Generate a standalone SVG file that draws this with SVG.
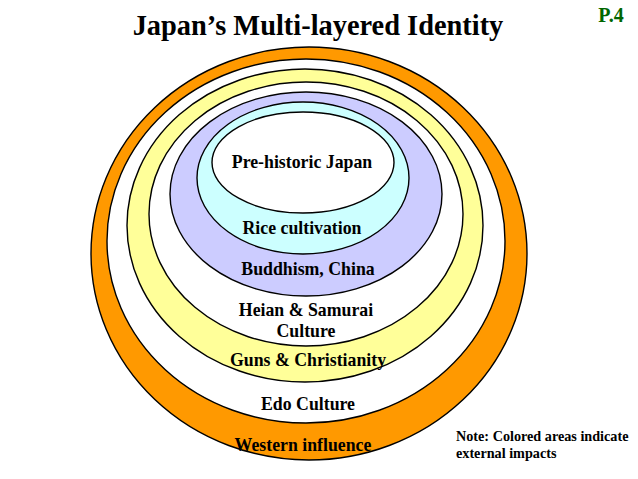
<svg xmlns="http://www.w3.org/2000/svg" width="638" height="479" viewBox="0 0 638 479">
<style>
.e{stroke:#000;stroke-width:1.4}
.t{font-family:"Liberation Serif","Times New Roman",serif;font-weight:bold;fill:#000;text-anchor:middle}
.l{font-size:17.8px}
</style>
<rect width="638" height="479" fill="#fff"/>
<text class="t" x="318" y="35" font-size="28.4">Japan’s Multi-layered Identity</text>
<text class="t" x="611" y="22" font-size="20" style="fill:#006600">P.4</text>
<g id="western"><ellipse class="e" cx="309" cy="253.5" rx="218" ry="206.5" fill="#FF9900"/></g>
<g id="edo"><ellipse class="e" cx="306" cy="241" rx="199" ry="182" fill="#FFFFFF"/></g>
<g id="guns"><ellipse class="e" cx="305" cy="225.5" rx="178" ry="156.5" fill="#FFFF99"/></g>
<g id="heian"><ellipse class="e" cx="306" cy="214" rx="157" ry="132" fill="#FFFFFF"/></g>
<g id="buddhism"><ellipse class="e" cx="306" cy="194" rx="136" ry="102" fill="#CCCCFF"/></g>
<g id="rice"><ellipse class="e" cx="303" cy="178" rx="106" ry="76" fill="#CCFFFF"/></g>
<g id="prehistoric"><ellipse class="e" cx="303" cy="162.5" rx="91" ry="50.5" fill="#FFFFFF"/></g>
<g id="connectors"></g>
<g id="labels">
<text class="t l" x="302" y="168">Pre-historic Japan</text>
<text class="t l" x="302" y="234">Rice cultivation</text>
<text class="t l" x="308" y="275">Buddhism, China</text>
<text class="t l" x="306" y="316">Heian &amp; Samurai</text>
<text class="t l" x="306" y="337">Culture</text>
<text class="t l" x="308" y="366">Guns &amp; Christianity</text>
<text class="t l" x="308" y="410">Edo Culture</text>
<text class="t l" x="303" y="451">Western influence</text>
</g>
<g id="note">
<text class="t" x="456" y="441" font-size="14.2" style="text-anchor:start">Note: Colored areas indicate</text>
<text class="t" x="456" y="458" font-size="14.2" style="text-anchor:start">external impacts</text>
</g>
</svg>
